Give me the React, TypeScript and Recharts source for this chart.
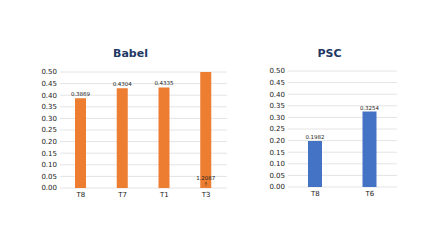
import React from 'react';
import { BarChart, Bar, XAxis, YAxis, CartesianGrid, LabelList } from 'recharts';

const babelCategories = ['T8', 'T7', 'T1', 'T3'];
const babelValues = [0.3869, 0.4304, 0.4335, 1.2087];
const pscCategories = ['T8', 'T6'];
const pscValues = [0.1982, 0.3254];
const yTicks = [0, 0.05, 0.1, 0.15, 0.2, 0.25, 0.3, 0.35, 0.4, 0.45, 0.5];
const yMax = 0.5;

const babelData = babelCategories.map((name, i) => ({ name, value: babelValues[i] }));
const pscData = pscCategories.map((name, i) => ({ name, value: pscValues[i] }));

const font = '"DejaVu Sans", sans-serif';

const renderLabel = (props: any) => {
  const { x, y, width, height, value } = props;
  const cx = x + width / 2;
  if (value > yMax) {
    // bar runs off the top, so the value is written near the base
    const base = y + height;
    return (
      <g>
        <text x={cx} y={base - 8} textAnchor="middle" fontSize={5.5} fill="#222" fontFamily={font}>
          {value.toFixed(4)}
        </text>
        <text x={cx} y={base - 2} textAnchor="middle" fontSize={5} fill="#222" fontFamily={font}>
          ↑
        </text>
      </g>
    );
  }
  return (
    <text x={cx} y={y - 2} textAnchor="middle" fontSize={5.5} fill="#222" fontFamily={font}>
      {value.toFixed(4)}
    </text>
  );
};

const Panel = ({ title, data, color, barSize, width, margin }: any) => (
  <div style={{ position: 'relative', width, height: 250 }}>
    <div
      style={{
        position: 'absolute',
        top: 47,
        left: margin.left + 30 - 13,
        width: width - margin.left - 30 - margin.right,
        textAlign: 'center',
        fontFamily: font,
        fontWeight: 'bold',
        fontSize: 11,
        color: '#1f3864',
      }}
    >
      {title}
    </div>
    <BarChart width={width} height={250} data={data} margin={margin}>
      <CartesianGrid vertical={false} stroke="#e4e4e4" />
      <XAxis
        dataKey="name"
        axisLine={false}
        tickLine={false}
        tickSize={0}
        tickMargin={4}
        height={14}
        tick={{ fontSize: 7, fill: '#222', fontFamily: font }}
      />
      <YAxis
        domain={[0, yMax]}
        ticks={yTicks}
        interval={0}
        allowDataOverflow
        axisLine={false}
        tickLine={false}
        tickSize={0}
        tickMargin={3}
        width={30}
        tickFormatter={(v: number) => v.toFixed(2)}
        tick={{ fontSize: 7, fill: '#222', fontFamily: font }}
      />
      <Bar dataKey="value" fill={color} barSize={barSize} isAnimationActive={false}>
        <LabelList dataKey="value" content={renderLabel} />
      </Bar>
    </BarChart>
  </div>
);

export default function App() {
  return (
    <div style={{ position: 'absolute', left: 0, top: 0, width: 444, height: 250, background: '#fff', display: 'flex' }}>
      <Panel
        title="Babel"
        data={babelData}
        color="#ed7d31"
        barSize={11}
        width={240}
        margin={{ top: 72, right: 13, bottom: 48, left: 30 }}
      />
      <Panel
        title="PSC"
        data={pscData}
        color="#4472c4"
        barSize={14}
        width={204}
        margin={{ top: 71, right: 47, bottom: 49, left: 18 }}
      />
    </div>
  );
}
